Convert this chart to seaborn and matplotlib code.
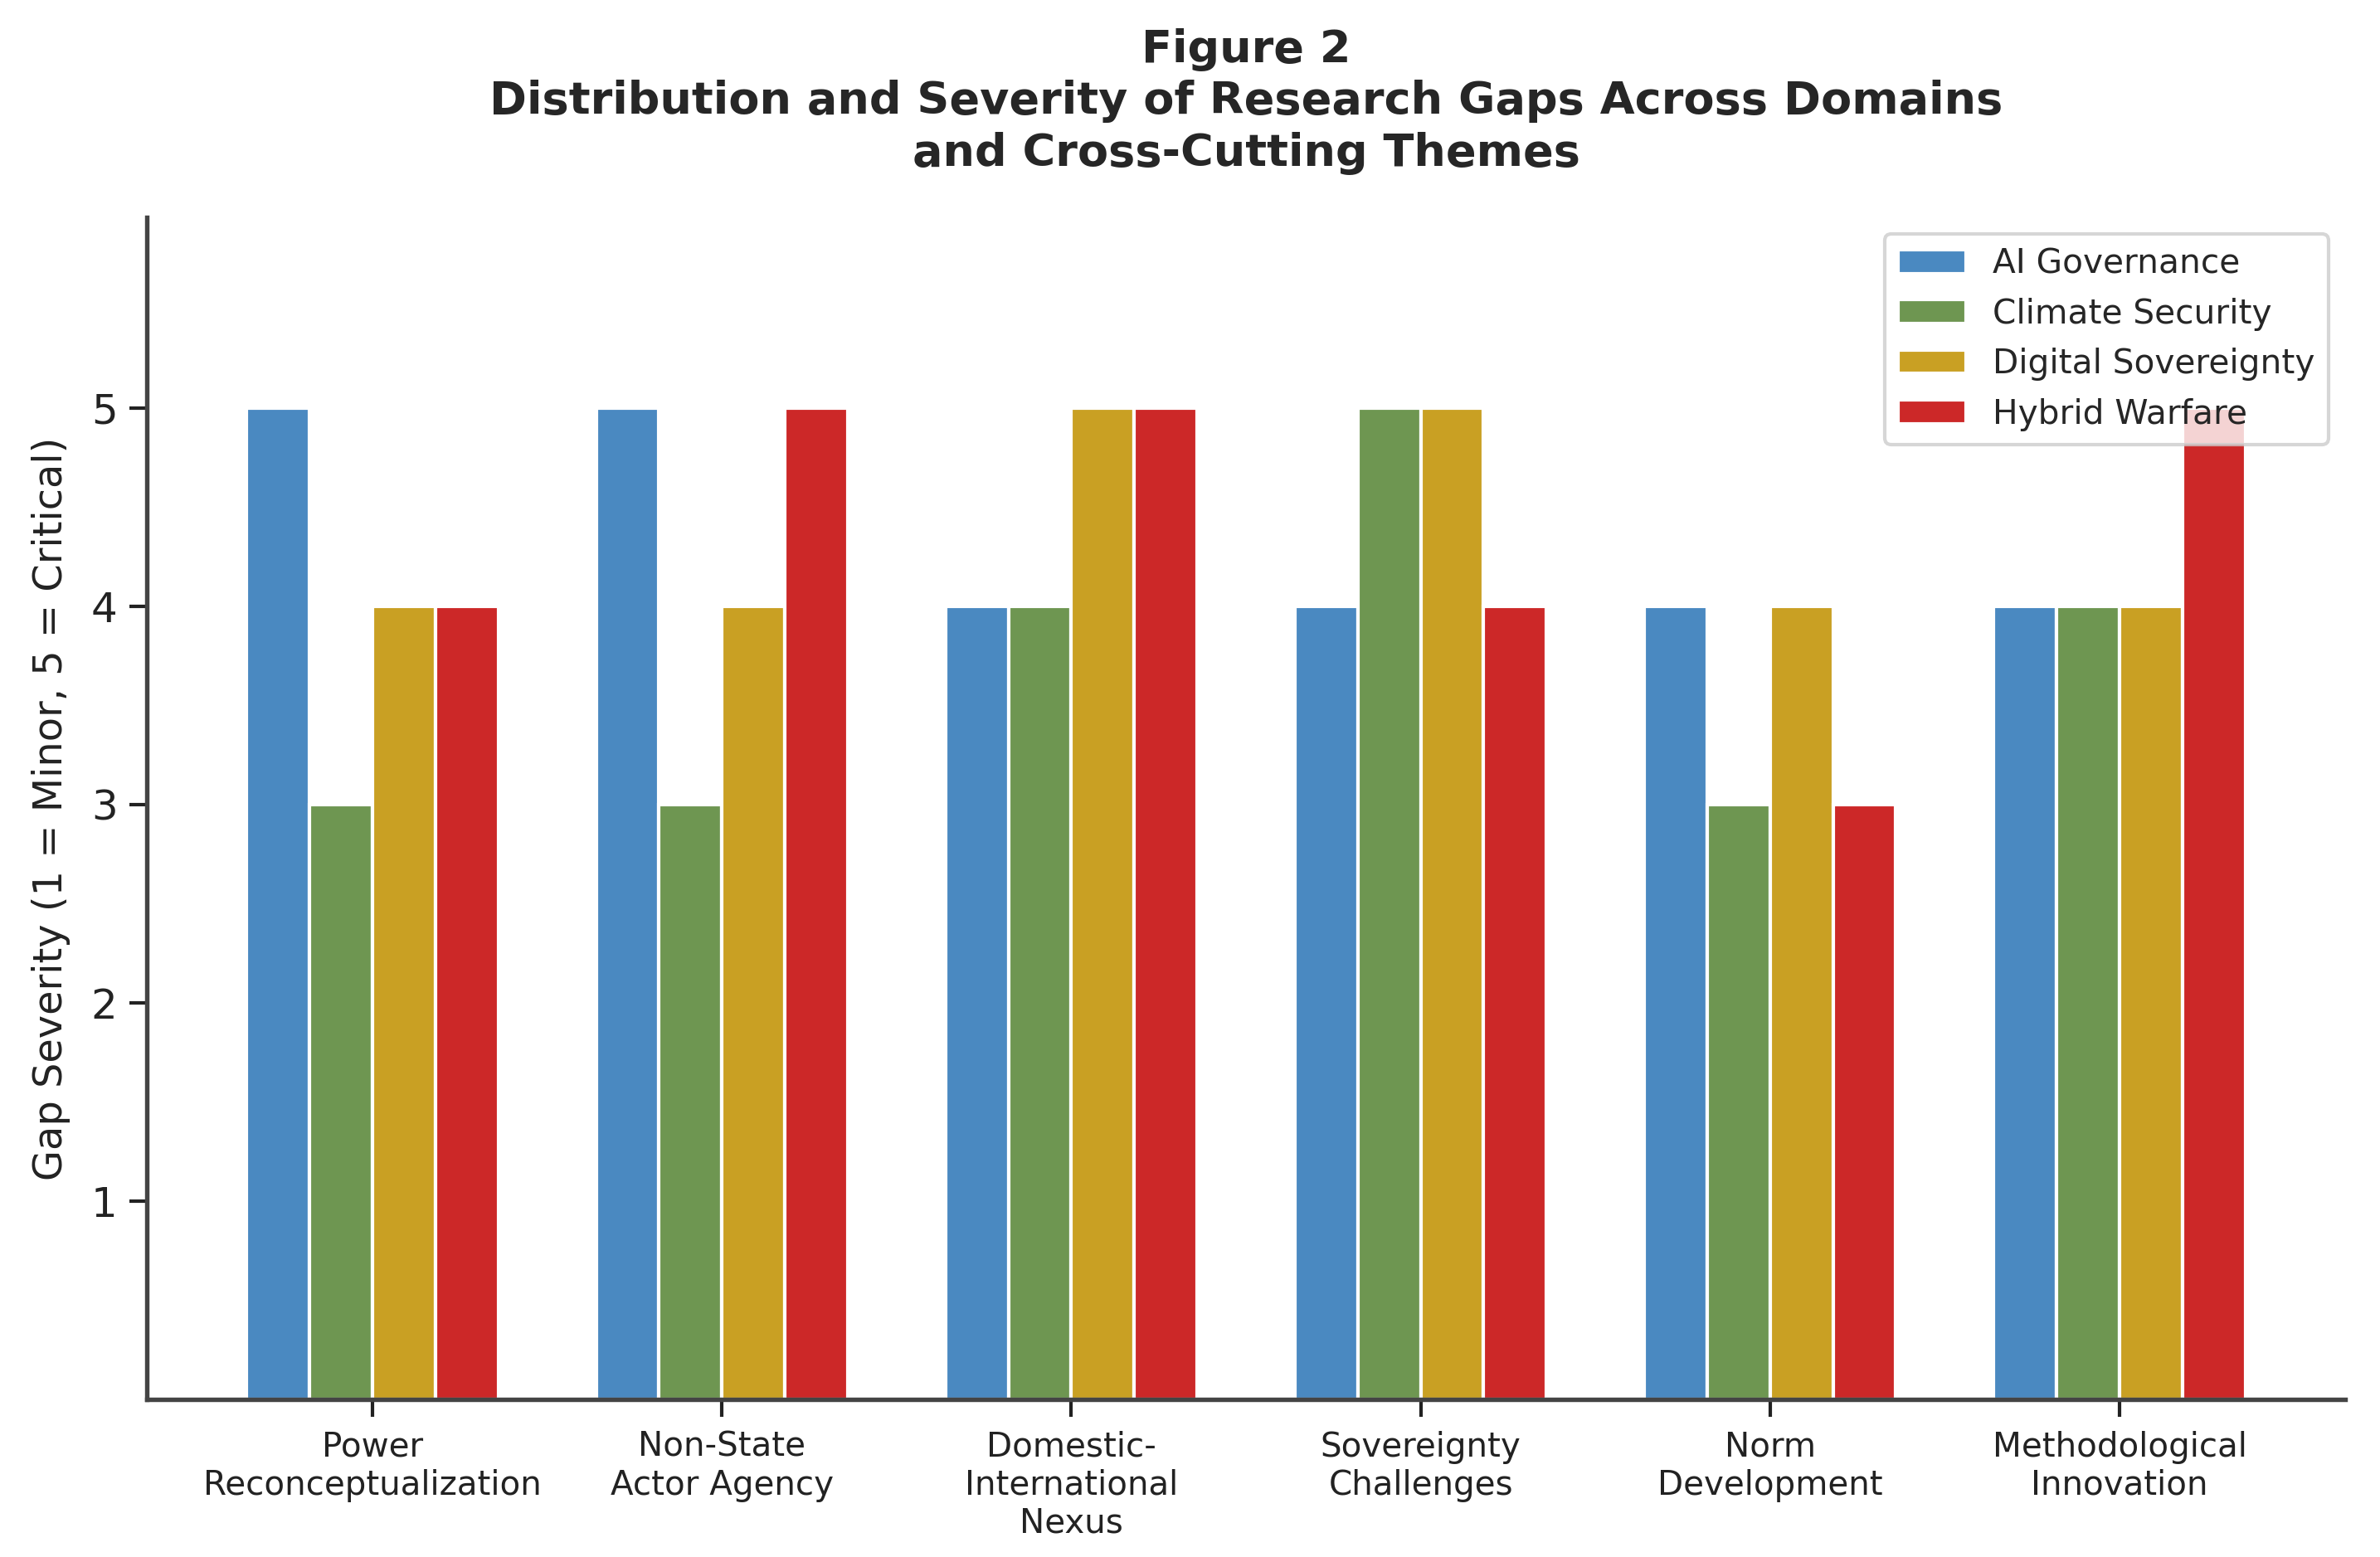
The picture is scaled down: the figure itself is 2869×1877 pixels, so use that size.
import matplotlib
matplotlib.use("Agg")
import matplotlib.pyplot as plt
import seaborn as sns
import pandas as pd

categories = ["Power\nReconceptualization", "Non-State\nActor Agency",
              "Domestic-\nInternational\nNexus", "Sovereignty\nChallenges",
              "Norm\nDevelopment", "Methodological\nInnovation"]
series = ["AI Governance", "Climate Security", "Digital Sovereignty", "Hybrid Warfare"]
ai_governance = [5, 5, 4, 4, 4, 4]
climate_security = [3, 3, 4, 5, 3, 4]
digital_sovereignty = [4, 4, 5, 5, 4, 4]
hybrid_warfare = [4, 5, 5, 4, 3, 5]
colors = ["#4a89c1", "#6e9651", "#c9a023", "#cc2828"]
yticks = [1, 2, 3, 4, 5]

values = [ai_governance, climate_security, digital_sovereignty, hybrid_warfare]
rows = []
for s, vals in zip(series, values):
    for c, v in zip(categories, vals):
        rows.append({"Category": c, "Domain": s, "Severity": v})
df = pd.DataFrame(rows)

sns.set_theme(style="ticks")
plt.rcParams["font.family"] = ["DejaVu Sans"]

fig = plt.figure(figsize=(2869 / 300, 1877 / 300), dpi=300)
ax = fig.add_axes([0.0617, 0.1012, 0.9854 - 0.0617, 0.8604 - 0.1012])

sns.barplot(data=df, x="Category", y="Severity", hue="Domain",
            hue_order=series, order=categories, palette=colors,
            width=0.72, edgecolor="white", linewidth=1.0, saturation=1,
            errorbar=None, ax=ax)

ax.set_xlim(-0.646, 5.646)
ax.set_ylim(0, 5.96)
ax.set_yticks(yticks)
ax.set_yticklabels([str(t) for t in yticks], fontsize=12)
ax.tick_params(axis="x", labelsize=9.7, length=5, width=1, colors="#222222", pad=4)
ax.tick_params(axis="y", length=5, width=1, colors="#222222")
for lab in ax.get_xticklabels():
    lab.set_color("#222222")
ax.set_xlabel("")
ax.set_ylabel("Gap Severity (1 = Minor, 5 = Critical)", fontsize=11.5, color="#222222", labelpad=6)
ax.set_title("Figure 2\nDistribution and Severity of Research Gaps Across Domains\nand Cross-Cutting Themes",
             fontsize=13, fontweight="bold", pad=15, linespacing=1.25)

sns.despine(ax=ax)
for sp in ["left", "bottom"]:
    ax.spines[sp].set_color("#444444")
    ax.spines[sp].set_linewidth(1.3)

leg = ax.legend(loc="upper right", fontsize=9.75, frameon=True, title=None)
leg.get_frame().set_edgecolor("#cccccc")
leg.set_zorder(10)

fig.savefig("out.png", dpi=300)
